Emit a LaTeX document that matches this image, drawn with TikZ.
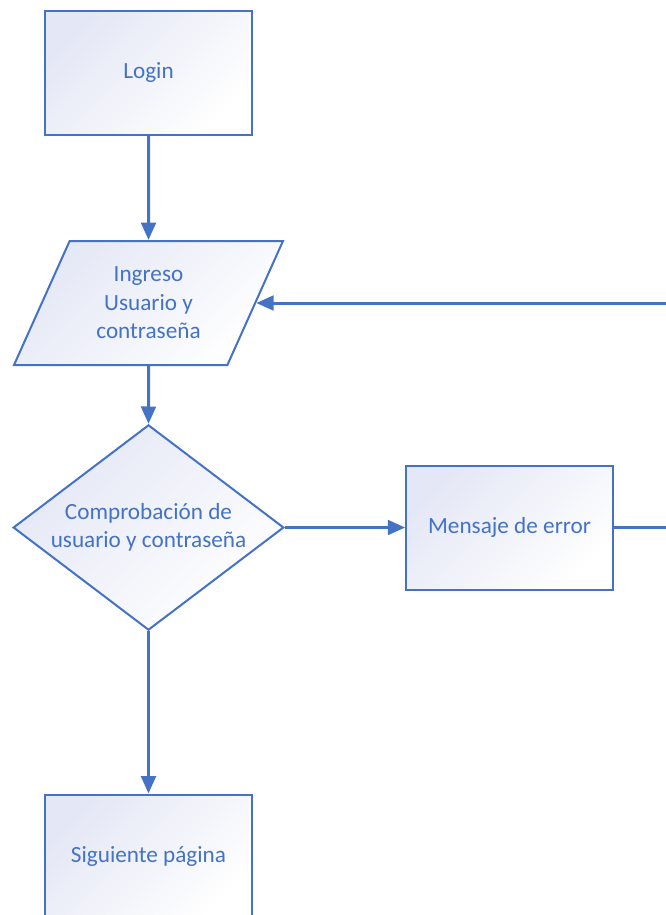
\documentclass[tikz,border=0pt]{standalone}
\usepackage{fontspec}
\setmainfont{Carlito}
\usetikzlibrary{arrows.meta,shapes.geometric}
\definecolor{azul}{HTML}{4472C4}
\definecolor{lila}{HTML}{E4E7F5}
\tikzset{
  base/.style={draw=azul, line width=1.5pt, top color=lila, bottom color=white,
    shading angle=45, text=azul, align=center, inner sep=0pt,
    font=\fontsize{17.4}{21.4}\selectfont},
  caja/.style={base, rectangle, minimum width=155pt, minimum height=93pt},
  datos/.style={base, trapezium, trapezium left angle=63, trapezium right angle=117,
    trapezium stretches=true, minimum width=202pt, minimum height=93pt},
  decision/.style={base, diamond, aspect=1.32, minimum width=203pt, minimum height=154pt},
  flecha/.style={draw=azul, line width=2.25pt, -{Triangle[length=13pt,width=11pt]}}
}

\begin{document}
\begin{tikzpicture}[x=0.75pt, y=-0.75pt]
  \useasboundingbox (0,0) rectangle (666,915);
  \clip (0,0) rectangle (666,915);
  \node[caja] (login) at (148.5,72.5) {Login};
  \node[datos] (ingreso) at (148.5,303) {Ingreso\\Usuario y\\contraseña};
  \node[decision] (comprobacion) at (148.5,527.5) {Comprobación de\\usuario y contraseña};
  \node[caja] (error) at (509.5,527.5) {Mensaje de error};
  \node[caja] (siguiente) at (148.5,856.5) {Siguiente página};
  \coordinate (retorno) at (700,0);
  \draw[flecha] (login) -- (ingreso);
  \draw[flecha] (ingreso) -- (comprobacion);
  \draw[flecha] (comprobacion) -- (error);
  \draw[flecha] (comprobacion) -- (siguiente);
  \draw[flecha] (error.east) -- (retorno |- error.east) -- (retorno |- ingreso.east) -- (ingreso.east);
\end{tikzpicture}
\end{document}
